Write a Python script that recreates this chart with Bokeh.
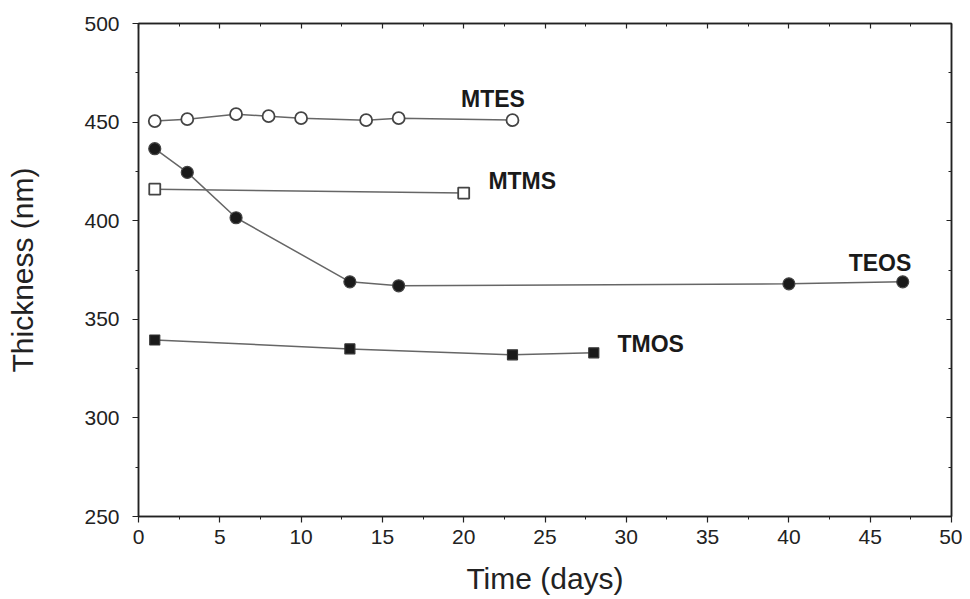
from bokeh.plotting import figure
from bokeh.models import LinearAxis, Range1d, FixedTicker, ColumnDataSource
from bokeh.core.properties import value
from bokeh.embed import file_html
from bokeh.resources import INLINE

# --- data ---
mtes_x = [1, 3, 6, 8, 10, 14, 16, 23]
mtes_y = [450.5, 451.5, 454, 453, 452, 451, 452, 451]

teos_x = [1, 3, 6, 13, 16, 40, 47]
teos_y = [436.5, 424.5, 401.5, 369, 367, 368, 369]

mtms_x = [1, 20]
mtms_y = [416, 414]

tmos_x = [1, 13, 23, 28]
tmos_y = [339.5, 335, 332, 333]

label_text = ["MTES", "MTMS", "TEOS", "TMOS"]
label_x = [21.8, 23.6, 45.6, 31.5]
label_y = [461.5, 420, 378.8, 337.7]

x_ticks = [0, 5, 10, 15, 20, 25, 30, 35, 40, 45, 50]
y_ticks = [250, 300, 350, 400, 450, 500]

FONT = "Liberation Sans"
LINE = "#666666"

p = figure(frame_width=813, frame_height=493,
           x_range=Range1d(0, 50), y_range=Range1d(250, 500),
           output_backend="svg", toolbar_location=None,
           min_border_left=138, min_border_top=23, min_border_right=11,
           min_border_bottom=75, background_fill_color="white",
           border_fill_color="white")
p.grid.visible = False
p.outline_line_color = "#222222"
p.outline_line_width = 1.5

def style_axis(ax, show_labels=True, inward=False):
    ax.axis_line_color = "#222222"
    ax.axis_line_width = 1.5
    ax.major_tick_line_color = "#222222"
    ax.minor_tick_line_color = "#222222"
    ax.major_tick_line_width = 1.2
    ax.minor_tick_line_width = 1
    if inward:
        ax.major_tick_in = 5
        ax.major_tick_out = 0
        ax.minor_tick_in = 3
        ax.minor_tick_out = 0
    else:
        ax.major_tick_in = 0
        ax.major_tick_out = 6
        ax.minor_tick_in = 0
        ax.minor_tick_out = 3
    ax.major_label_text_font = FONT
    ax.major_label_text_font_size = "21px"
    ax.major_label_text_color = "#222222" if show_labels else None
    ax.axis_label_text_font = FONT
    ax.axis_label_text_font_style = "normal"
    ax.axis_label_text_font_size = "30px"
    ax.axis_label_text_color = "#222222"

xt = FixedTicker(ticks=x_ticks, minor_ticks=[i * 2.5 for i in range(21)])
yt = FixedTicker(ticks=y_ticks, minor_ticks=[250 + i * 25 for i in range(11)])

p.xaxis.ticker = xt
p.yaxis.ticker = yt
style_axis(p.xaxis[0])
style_axis(p.yaxis[0])
p.xaxis.axis_label = "Time (days)"
p.yaxis.axis_label = "Thickness (nm)"
p.xaxis.major_label_standoff = 7
p.xaxis.axis_label_standoff = 15
p.yaxis.major_label_standoff = 13
p.yaxis.axis_label_standoff = 42

top = LinearAxis(ticker=xt)
style_axis(top, show_labels=False, inward=True)
p.add_layout(top, "above")
right = LinearAxis(ticker=yt)
style_axis(right, show_labels=False, inward=True)
p.add_layout(right, "right")

# series
p.line(mtes_x, mtes_y, line_color=LINE, line_width=1.5)
p.scatter(mtes_x, mtes_y, marker="circle", size=12, fill_color="white",
          line_color="#444444", line_width=1.8)

p.line(teos_x, teos_y, line_color=LINE, line_width=1.5)
p.scatter(teos_x, teos_y, marker="circle", size=12, fill_color="#1a1a1a",
          line_color="#444444", line_width=1.2)

p.line(mtms_x, mtms_y, line_color=LINE, line_width=1.5)
p.scatter(mtms_x, mtms_y, marker="square", size=11, fill_color="white",
          line_color="#444444", line_width=1.8)

p.line(tmos_x, tmos_y, line_color=LINE, line_width=1.5)
p.scatter(tmos_x, tmos_y, marker="square", size=10, fill_color="#1a1a1a",
          line_color="#333333", line_width=1.2)

src = ColumnDataSource(dict(x=label_x, y=label_y, t=label_text))
p.text(x="x", y="y", text="t", source=src, text_font=value(FONT),
       text_font_style="bold", text_font_size="23px", text_color="#1a1a1a",
       text_align="center", text_baseline="middle")

open("out.html", "w").write(file_html(p, INLINE))
